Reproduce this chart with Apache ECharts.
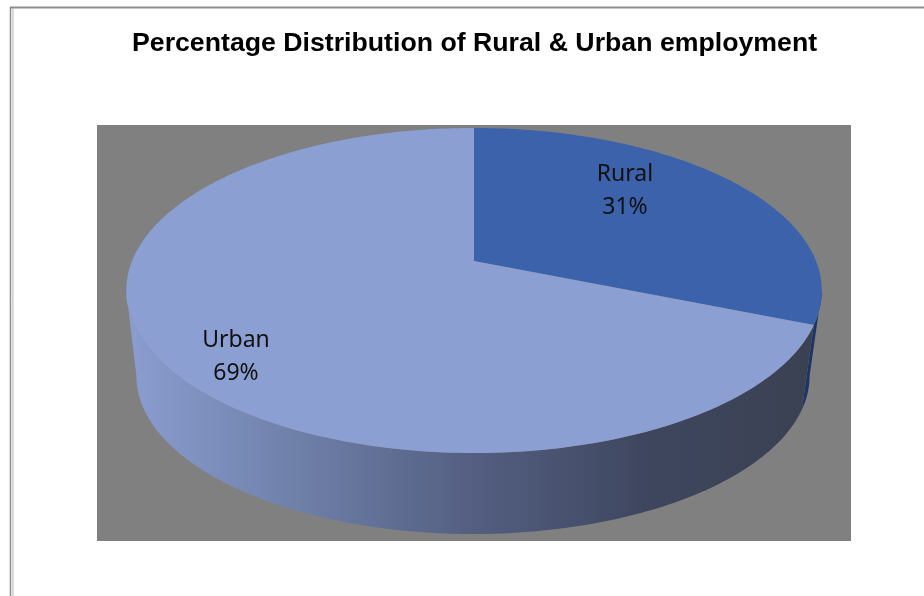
<!DOCTYPE html>
<html><head><meta charset="utf-8">
<style>html,body{margin:0;padding:0;background:#fff}#c{width:924px;height:596px}</style>
<script src="https://cdn.jsdelivr.net/npm/echarts@6/dist/echarts.min.js"></script>
</head><body><div id="c"></div>
<script>
var categories = ['Rural', 'Urban'];
var shares = [31.2, 68.8];
var chartTitle = 'Percentage Distribution of Rural & Urban employment';

var k = 0.1815;
var topRim = {cx: 474, c: 261, a: 109.8, b: 342};
var lowRim = {cx: 473, c: 347.3, a: 89.8, b: 331};
var sideFrom = 100.5, sideTo = 259.5;
var labelAt = {Rural: [625, 191], Urban: [236, 357]};
var topFill = {Rural: '#3b62aa', Urban: '#8c9fd2'};
var sideFill = {
  Rural: '#1c3564',
  Urban: {type: 'linear', global: true, x: 130, y: 0, x2: 810, y2: 0, colorStops: [
    {offset: 0, color: '#8a9dcf'}, {offset: 0.25, color: '#6e7fa8'},
    {offset: 0.5, color: '#545f82'}, {offset: 0.75, color: '#3f4760'}, {offset: 1, color: '#3a4152'}]}
};

function rimPoint(r, deg) {
  var t = deg * Math.PI / 180, u = Math.sin(t), v = Math.cos(t), w = 1 + k * v;
  return [r.cx + r.b * u / w, (r.c - r.a * v) / w];
}
function arc(r, a0, a1) {
  var pts = [], n = Math.max(2, Math.ceil(Math.abs(a1 - a0)));
  for (var i = 0; i <= n; i++) pts.push(rimPoint(r, a0 + (a1 - a0) * i / n));
  return pts;
}

var total = shares.reduce(function (s, v) { return s + v; }, 0);
var starts = [];
shares.reduce(function (s, v, i) { starts[i] = s; return s + v; }, 0);

function renderSlice(params, api) {
  var i = params.dataIndex, name = categories[i], val = api.value(0);
  var a0 = starts[i] / total * 360, a1 = (starts[i] + val) / total * 360;
  var children = [];
  var s0 = Math.max(a0, sideFrom), s1 = Math.min(a1, sideTo);
  if (s1 > s0) {
    children.push({type: 'polygon', z2: 1, shape: {points: arc(topRim, s0, s1).concat(arc(lowRim, s1, s0))},
      style: {fill: sideFill[name]}});
  }
  children.push({type: 'polygon', z2: 2,
    shape: {points: [[topRim.cx, topRim.c]].concat(arc(topRim, a0, a1))},
    style: {fill: topFill[name]}});
  children.push({type: 'text', z2: 3, style: {
    text: name + '\n' + Math.round(val) + '%', x: labelAt[name][0], y: labelAt[name][1],
    align: 'center', verticalAlign: 'middle', fill: '#111',
    font: '23px "Noto Sans"', lineHeight: 33}});
  return {type: 'group', children: children};
}

var chart = echarts.init(document.getElementById('c'), null, {renderer: 'canvas'});
chart.setOption({
  animation: false,
  backgroundColor: '#fff',
  title: {text: chartTitle, left: 127, top: 25,
    textStyle: {fontFamily: 'Liberation Sans', fontWeight: 'bold', fontSize: 26.7, color: '#000'}},
  grid: {show: true, left: 97, top: 125, width: 754, height: 416, backgroundColor: '#808080', borderWidth: 0},
  xAxis: {type: 'value', show: false, min: 0, max: 1},
  yAxis: {type: 'value', show: false, min: 0, max: 1},
  graphic: [
    {type: 'line', shape: {x1: 10, y1: 7.5, x2: 924, y2: 7.5}, style: {stroke: '#8c8c8c', lineWidth: 2}},
    {type: 'line', shape: {x1: 10.5, y1: 7, x2: 10.5, y2: 596}, style: {stroke: '#8c8c8c', lineWidth: 1.5}},
    {type: 'line', shape: {x1: 13, y1: 9, x2: 13, y2: 596}, style: {stroke: '#b5b5b5', lineWidth: 1}}
  ],
  series: [{type: 'custom', coordinateSystem: 'none', renderItem: renderSlice,
    data: shares.map(function (v) { return [v]; })}]
});
</script></body></html>
